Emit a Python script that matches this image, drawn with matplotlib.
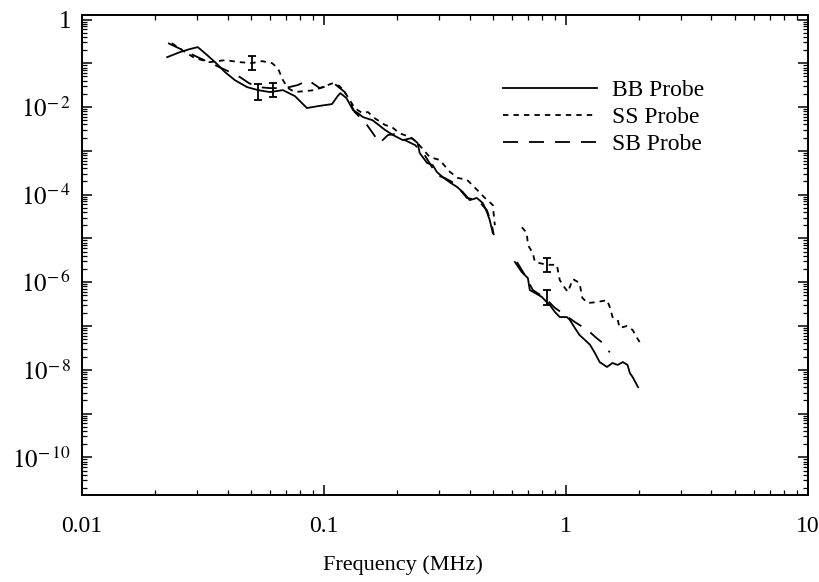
from matplotlib import pyplot as plt
from matplotlib.ticker import LogLocator, FuncFormatter, NullFormatter
import numpy as np

plt.rcParams['font.family'] = 'Liberation Serif'
plt.rcParams['mathtext.fontset'] = 'stix'

## BB probe, low band and high band
bb_lo_f = [0.0225, 0.0254, 0.0279, 0.0301, 0.0322, 0.0355, 0.0390, 0.0429, 0.0481, 0.0534,
           0.0598, 0.0677, 0.0759, 0.0851, 0.0944, 0.108, 0.114, 0.117, 0.124, 0.132,
           0.138, 0.145, 0.159, 0.179, 0.193, 0.212, 0.231, 0.244, 0.249, 0.267,
           0.282, 0.293, 0.310, 0.332, 0.355, 0.375, 0.401, 0.429, 0.454, 0.472,
           0.485, 0.499]
bb_lo = [0.138, 0.180, 0.211, 0.234, 0.171, 0.106, 0.063, 0.041, 0.0286, 0.0244,
         0.0220, 0.0244, 0.0178, 0.0095, 0.0105, 0.0117, 0.0178, 0.0208, 0.0160, 0.0085,
         0.0073, 0.0059, 0.0050, 0.0030, 0.0023, 0.00176, 0.00196, 0.00151, 0.00089, 0.00053,
         0.00047, 0.00033, 0.00025, 0.00019, 0.00015, 1.15e-4, 7.5e-5, 8.4e-5, 6.4e-5, 4.0e-5,
         2.6e-5, 1.33e-5]
bb_hi_f = [0.616, 0.658, 0.697, 0.710, 0.745, 0.796, 0.834, 0.859, 0.901, 0.944,
           1.01, 1.04, 1.09, 1.14, 1.20, 1.26, 1.32, 1.38, 1.48, 1.56,
           1.64, 1.72, 1.80, 1.84, 1.89, 1.99]
bb_hi = [2.9e-6, 1.7e-6, 1.24e-6, 6.6e-7, 5.7e-7, 4.6e-7, 3.5e-7, 3.0e-7, 2.1e-7, 1.6e-7,
         1.6e-7, 1.37e-7, 9.0e-8, 6.2e-8, 4.8e-8, 3.7e-8, 2.4e-8, 1.5e-8, 1.16e-8, 1.43e-8,
         1.29e-8, 1.5e-8, 1.29e-8, 8.4e-9, 6.8e-9, 4.0e-9]

## SS probe
ss_lo_f = [0.0235, 0.0267, 0.0293, 0.0338, 0.0390, 0.0450, 0.0504, 0.0555, 0.0610, 0.0645,
           0.0677, 0.0710, 0.0759, 0.0834, 0.0918, 0.101, 0.109, 0.116, 0.122, 0.128,
           0.134, 0.144, 0.152, 0.162, 0.179, 0.191, 0.206, 0.226, 0.242, 0.274,
           0.301, 0.332, 0.358, 0.390, 0.429, 0.463, 0.499, 0.509]
ss_lo = [0.289, 0.180, 0.131, 0.106, 0.118, 0.106, 0.101, 0.112, 0.101, 0.0776,
         0.0413, 0.0271, 0.0220, 0.0232, 0.0244, 0.0301, 0.0352, 0.0301, 0.0220, 0.0144,
         0.0095, 0.0073, 0.0077, 0.0056, 0.0039, 0.0035, 0.0025, 0.0021, 0.00158, 0.00072,
         0.00062, 0.00033, 0.00024, 0.00022, 0.00013, 8.4e-5, 5.8e-5, 2.0e-5]
ss_hi_f = [0.658, 0.690, 0.697, 0.731, 0.745, 0.834, 0.918, 0.944, 0.991, 1.02,
           1.07, 1.14, 1.17, 1.23, 1.34, 1.48, 1.52, 1.56, 1.64, 1.67,
           1.79, 1.89, 1.96, 2.02]
ss_hi = [1.8e-5, 1.33e-5, 7.1e-6, 4.6e-6, 2.9e-6, 2.5e-6, 2.5e-6, 1.12e-6, 7.4e-7, 6.0e-7,
         1.18e-6, 9.6e-7, 4.4e-7, 3.35e-7, 3.5e-7, 3.9e-7, 2.7e-7, 1.6e-7, 1.37e-7, 9.0e-8,
         1.0e-7, 8.1e-8, 5.6e-8, 4.3e-8]

## SB probe
sb_lo_f = [0.0227, 0.0261, 0.0307, 0.0355, 0.0409, 0.0450, 0.049, 0.0534, 0.0598, 0.0690,
           0.078, 0.086, 0.0962, 0.111, 0.122, 0.134, 0.148, 0.158, 0.170, 0.184,
           0.196, 0.216, 0.238, 0.261, 0.293, 0.316, 0.348, 0.390, 0.433, 0.472,
           0.495, 0.504]
sb_lo = [0.289, 0.200, 0.131, 0.0908, 0.063, 0.0483, 0.0352, 0.0286, 0.0271, 0.0271,
         0.0318, 0.0413, 0.0271, 0.0335, 0.0220, 0.0077, 0.0045, 0.0027, 0.00151, 0.0023,
         0.0024, 0.00176, 0.00136, 0.00080, 0.00028, 0.00024, 0.00018, 8.4e-5, 7.5e-5, 4.4e-5,
         2.0e-5, 1.19e-5]
sb_hi_f = [0.628, 0.677, 0.731, 0.819, 0.901, 0.991, 1.09, 1.23, 1.34, 1.42, 1.52]
sb_hi = [2.9e-6, 1.46e-6, 6.6e-7, 4.4e-7, 2.6e-7, 1.8e-7, 1.23e-7, 8.1e-8, 5.3e-8, 4.1e-8, 2.5e-8]

## error bars: frequency, centre, lower end, upper end
err_f = [0.0534, 0.0616, 0.0504, 0.834, 0.834]
err_c = [0.0244, 0.024, 0.101, 2.5e-6, 4.4e-7]
err_lo = [0.0144, 0.0169, 0.070, 1.7e-6, 3.0e-7]
err_hi = [0.0335, 0.0352, 0.146, 3.6e-6, 6.6e-7]


fig = plt.figure(figsize=(8.2, 5.82), dpi=100)
ax = fig.add_axes([0.1, 0.1495, 0.885, 0.8245])

ss_dash = (0, (3.0, 2.8))
sb_dash = (0, (8.3, 6.1))

ax.plot(bb_lo_f, bb_lo, 'k-', lw=1.3, label='BB Probe')
ax.plot(bb_hi_f, bb_hi, 'k-', lw=1.3)
ax.plot(ss_lo_f, ss_lo, color='k', ls=ss_dash, lw=1.3, label='SS Probe')
ax.plot(ss_hi_f, ss_hi, color='k', ls=ss_dash, lw=1.3)
ax.plot(sb_lo_f, sb_lo, color='k', ls=sb_dash, lw=1.3, label='SB Probe')
ax.plot(sb_hi_f, sb_hi, color='k', ls=sb_dash, lw=1.3)

yerr = [np.array(err_c) - np.array(err_lo), np.array(err_hi) - np.array(err_c)]
ax.errorbar(err_f, err_c, yerr=yerr, fmt='none', ecolor='k', elinewidth=1.3, capsize=3, capthick=1.3)

ax.set_xscale('log')
ax.set_yscale('log')
ax.set_xlim(0.01, 10)
ax.set_ylim(10**-10.86, 10**0.1)

ax.xaxis.set_major_locator(LogLocator(base=10, numticks=10))
ax.xaxis.set_minor_locator(LogLocator(base=10, subs=np.arange(2, 10), numticks=10))
ax.xaxis.set_major_formatter(FuncFormatter(lambda v, p: {0.01: '0.01', 0.1: '0.1', 1: '1', 10: '10'}.get(round(v, 4), '')))
ax.xaxis.set_minor_formatter(NullFormatter())

def ylab(v, p):
	e = int(round(np.log10(v)))
	if e % 2:
		return ''
	if e == 0:
		return '1'
	return r'$10^{-\,%d}$' % (-e)

ax.yaxis.set_major_locator(LogLocator(base=10, numticks=20))
ax.yaxis.set_minor_locator(LogLocator(base=10, subs=np.arange(2, 10), numticks=20))
ax.yaxis.set_major_formatter(FuncFormatter(ylab))
ax.yaxis.set_minor_formatter(NullFormatter())

ax.tick_params(which='both', direction='in', top=True, right=True, color='k')
ax.tick_params(axis='x', labelsize=17, pad=15)
ax.tick_params(axis='y', labelsize=18, pad=8)
ax.tick_params(which='major', length=7, width=1.1)
ax.tick_params(which='minor', length=3.5, width=0.9)
for s in ax.spines.values():
	s.set_linewidth(1.4)

l = ax.legend(loc='upper left', bbox_to_anchor=(0.58, 0.865), fontsize=17, frameon=False,
              handlelength=4.0, handletextpad=0.64, labelspacing=0.22, borderpad=0, borderaxespad=0)

fig.text(403/820, 1 - 565/582, 'Frequency (MHz)', fontsize=16, ha='center', va='center')

plt.savefig('out.png', dpi=100)
